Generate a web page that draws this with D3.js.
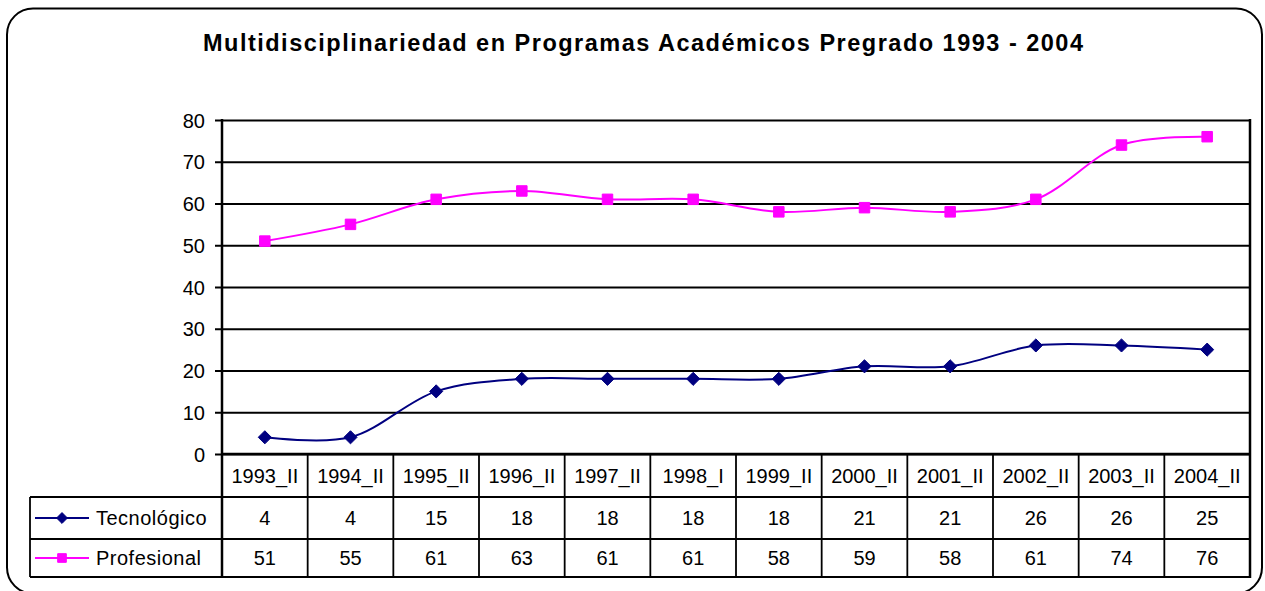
<!DOCTYPE html>
<html>
<head>
<meta charset="utf-8">
<script src="https://cdn.jsdelivr.net/npm/d3@7"></script>
<style>
  body { margin: 0; background: #fff; }
  svg { display: block; font-family: "Liberation Sans", Arial, sans-serif; }
</style>
</head>
<body>
<svg width="1265" height="591"></svg>
<script>
// DATA
const categories = ["1993_II", "1994_II", "1995_II", "1996_II", "1997_II", "1998_I", "1999_II", "2000_II", "2001_II", "2002_II", "2003_II", "2004_II"]
const tecnologico = [4, 4, 15, 18, 18, 18, 18, 21, 21, 26, 26, 25]
const profesional = [51, 55, 61, 63, 61, 61, 58, 59, 58, 61, 74, 76]
const yTicks = [0, 10, 20, 30, 40, 50, 60, 70, 80]

const series = [
  { name: "Tecnológico", values: tecnologico, color: "#000080", marker: "diamond" },
  { name: "Profesional", values: profesional, color: "#FF00FF", marker: "square" }
]

// SETUP
const svg = d3.select("svg")

const plotLeft = 222, plotRight = 1250, plotTop = 120, plotBottom = 454
const rowH = [454, 497, 539, 577]
const tableLeft = 30
const fontSize = 20

// outer frame
svg.append("rect")
  .attr("x", 7).attr("y", 8.5)
  .attr("width", 1255).attr("height", 585)
  .attr("rx", 26).attr("ry", 26)
  .attr("fill", "#fff")
  .attr("stroke", "#000")
  .attr("stroke-width", 2)

svg.append("text")
  .attr("x", 203).attr("y", 51)
  .attr("font-size", 23.5)
  .attr("font-weight", "bold")
  .attr("textLength", 880)
  .attr("lengthAdjust", "spacing")
  .text("Multidisciplinariedad en Programas Académicos Pregrado 1993 - 2004")

const scaleX = d3.scaleBand()
  .domain(categories)
  .range([plotLeft, plotRight])

const scaleY = d3.scaleLinear()
  .domain([0, 80])
  .range([plotBottom, plotTop])

// gridlines + y axis
const axisY = d3.axisLeft(scaleY)
  .tickValues(yTicks)
  .tickSizeInner(-(plotRight - plotLeft))
  .tickSizeOuter(0)
  .tickPadding(17)

const axisYGroup = svg.append("g")
  .attr("transform", `translate(${plotLeft}, 0)`)
  .call(axisY)

axisYGroup.select(".domain").remove()
axisYGroup.selectAll(".tick line")
  .attr("x1", -7)
  .attr("stroke", "#000")
  .attr("stroke-width", 2)
axisYGroup.selectAll(".tick text")
  .attr("font-size", fontSize)
  .attr("fill", "#000")
  .attr("dy", "0.36em")
  .attr("font-family", "Liberation Sans, Arial, sans-serif")

// plot left/right borders
svg.append("line")
  .attr("x1", plotLeft).attr("x2", plotLeft)
  .attr("y1", plotTop - 1).attr("y2", rowH[3] + 1)
  .attr("stroke", "#000").attr("stroke-width", 2.5)
svg.append("line")
  .attr("x1", plotRight).attr("x2", plotRight)
  .attr("y1", plotTop - 1).attr("y2", rowH[3] + 1)
  .attr("stroke", "#000").attr("stroke-width", 2.5)

// table lines
const tableLines = svg.append("g").attr("stroke", "#000").attr("stroke-width", 1.8)
tableLines.append("line")
  .attr("x1", plotLeft).attr("x2", plotRight)
  .attr("y1", plotBottom).attr("y2", plotBottom)
  .attr("stroke-width", 2.5)
rowH.slice(1).forEach((y) => {
  tableLines.append("line")
    .attr("x1", tableLeft).attr("x2", plotRight)
    .attr("y1", y).attr("y2", y)
})
tableLines.append("line")
  .attr("x1", tableLeft).attr("x2", tableLeft)
  .attr("y1", rowH[1]).attr("y2", rowH[3])
categories.slice(1).forEach((c) => {
  tableLines.append("line")
    .attr("x1", scaleX(c)).attr("x2", scaleX(c))
    .attr("y1", plotBottom).attr("y2", rowH[3])
})

// category labels
svg.append("g")
  .selectAll("text")
  .data(categories)
  .join("text")
  .attr("x", (d) => scaleX(d) + scaleX.bandwidth() / 2)
  .attr("y", 483)
  .attr("text-anchor", "middle")
  .attr("font-size", fontSize)
  .text((d) => d)

const markerPath = (m, big) => m === "diamond"
  ? d3.symbol(d3.symbolDiamond2, big ? 110 : 75)()
  : d3.symbol(d3.symbolSquare2, big ? 140 : 95)()

// value rows
const rowBase = [525, 565]
series.forEach((s, si) => {
  const yBase = rowBase[si]
  svg.append("g")
    .selectAll("text")
    .data(s.values)
    .join("text")
    .attr("x", (d, i) => scaleX(categories[i]) + scaleX.bandwidth() / 2)
    .attr("y", yBase)
    .attr("text-anchor", "middle")
    .attr("font-size", fontSize)
    .text((d) => d)

  // legend key
  const lg = svg.append("g").attr("transform", `translate(0, ${yBase - 7})`)
  lg.append("line")
    .attr("x1", 35).attr("x2", 89)
    .attr("y1", 0).attr("y2", 0)
    .attr("stroke", s.color).attr("stroke-width", 1.8)
  lg.append("path")
    .attr("transform", "translate(62, 0)")
    .attr("d", markerPath(s.marker, false))
    .attr("fill", s.color)
    .attr("stroke", s.color)
  lg.append("text")
    .attr("x", 96).attr("y", 7)
    .attr("font-size", fontSize)
    .attr("letter-spacing", 0.5)
    .text(s.name)
})

// lines
const line = d3.line()
  .x((d, i) => scaleX(categories[i]) + scaleX.bandwidth() / 2)
  .y((d) => scaleY(d))
  .curve(d3.curveCatmullRom.alpha(0.5))

series.forEach((s) => {
  svg.append("path")
    .datum(s.values)
    .attr("d", line)
    .attr("fill", "none")
    .attr("stroke", s.color)
    .attr("stroke-width", 2)

  svg.append("g")
    .selectAll("path")
    .data(s.values)
    .join("path")
    .attr("transform", (d, i) => `translate(${scaleX(categories[i]) + scaleX.bandwidth() / 2}, ${scaleY(d)})`)
    .attr("d", markerPath(s.marker, true))
    .attr("fill", s.color)
    .attr("stroke", s.color)
})
</script>
</body>
</html>
